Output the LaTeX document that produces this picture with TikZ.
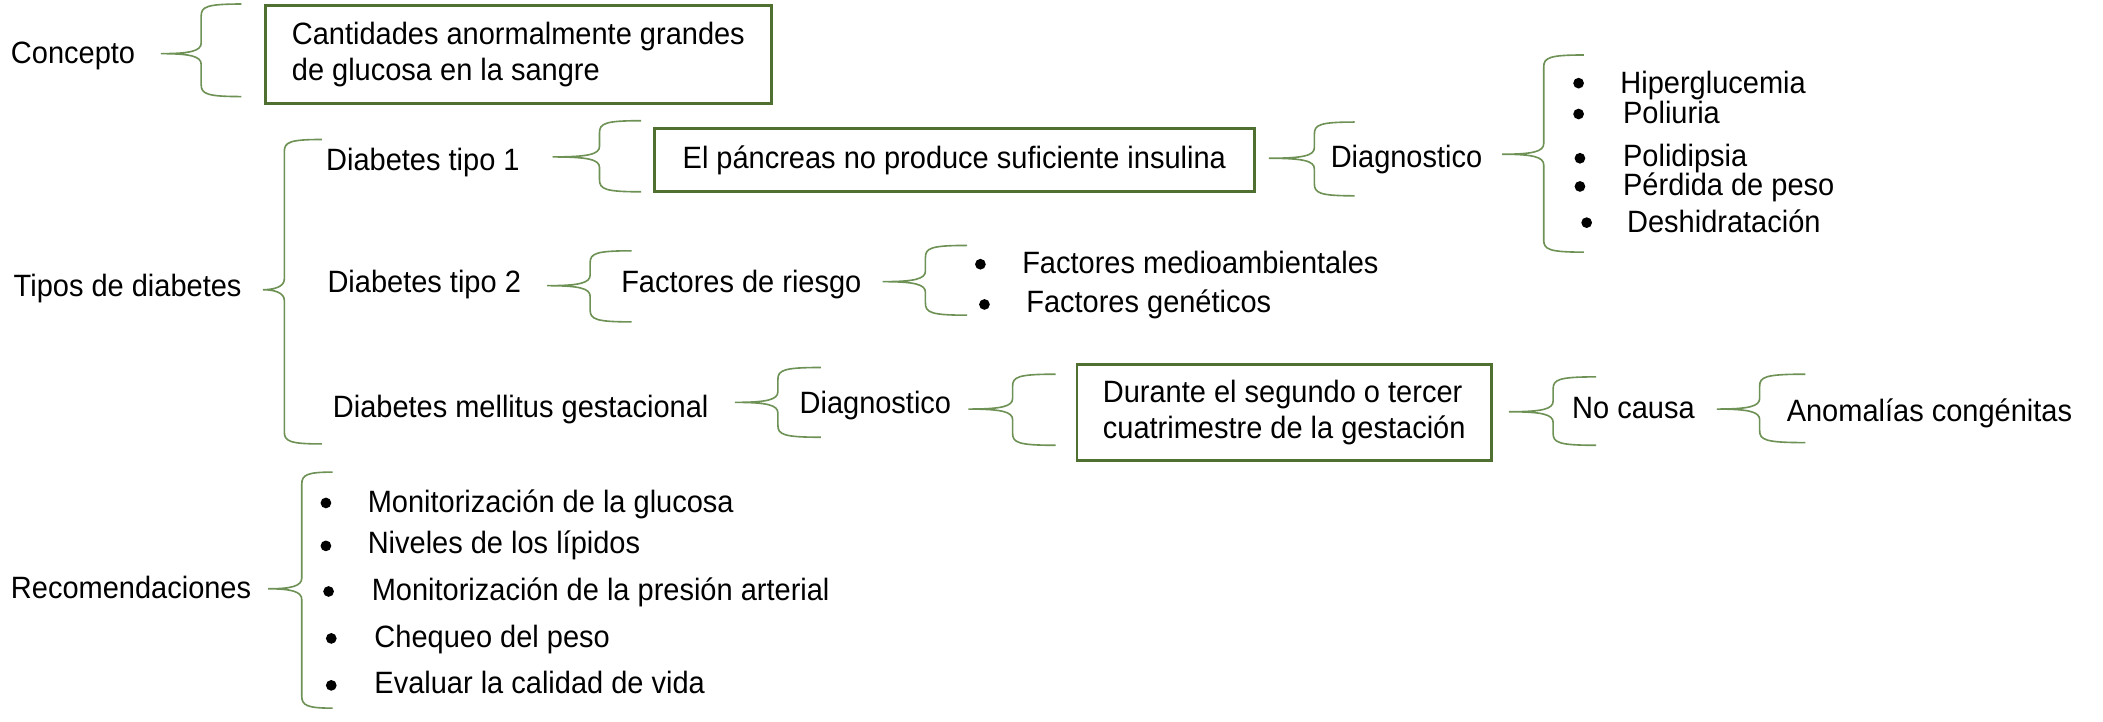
\documentclass[tikz,border=0pt]{standalone}
\usepackage{fontspec}
\setmainfont[FakeStretch=0.94]{Liberation Sans}
\definecolor{boxc}{RGB}{80,112,50}
\definecolor{bracec}{RGB}{110,145,85}
\newcommand\mybrace[6]{%
  \draw[brc] (#3,#4) .. controls ({#2+4},#4) and (#2,{#4+2}) .. (#2,{#4+9})
    -- (#2,{#5-8}) .. controls (#2,{#5-2}) and ({#2-8},#5) .. (#1,#5)
    .. controls ({#2-8},#5) and (#2,{#5+2}) .. (#2,{#5+8})
    -- (#2,{#6-9}) .. controls (#2,{#6-2}) and ({#2+4},#6) .. (#3,#6);}
\begin{document}
\begin{tikzpicture}[x=1pt,y=-1pt,
  every node/.style={font=\fontsize{23}{27}\selectfont, inner sep=0pt},
  lbl/.style={anchor=base west},
  box/.style={draw=boxc, line width=2.2pt, align=left},
  dot/.style={circle, fill=black, minimum size=8pt},
  brc/.style={draw=bracec, line width=1.2pt}]
\useasboundingbox[fill=white] (0,0) rectangle (1568,538);

% Concepto
\node[lbl] (concepto) at (8,47) {Concepto};
\mybrace{120}{150}{180}{3}{40}{72}
\node[box, minimum width=377pt, minimum height=73pt] (def) at (386.5,40.5)
  {Cantidades anormalmente grandes\\de glucosa en la sangre};

% Tipos
\node[lbl] (tipos) at (10,221) {Tipos de diabetes};
\mybrace{196}{212}{240}{104}{216}{331}

\node[lbl] (t1) at (243,127) {Diabetes tipo 1};
\mybrace{412}{447}{478}{90}{117}{143}
\node[box, minimum width=447pt, minimum height=47pt] (panc) at (711.5,119.5)
  {El páncreas no produce suficiente insulina};
\mybrace{946}{980}{1010}{91}{118}{146}
\node[lbl] (dx1) at (992,125) {Diagnostico};
\mybrace{1120}{1151}{1181}{41}{115}{188}
\node[dot] (s1) at (1177,62) {};
\node[dot] (s2) at (1177,85) {};
\node[dot] (s3) at (1178,118) {};
\node[dot] (s4) at (1178,139) {};
\node[dot] (s5) at (1183,166) {};
\node[lbl] (hip) at (1208,70) {Hiperglucemia};
\node[lbl] (pol) at (1210,92) {Poliuria};
\node[lbl] (pold) at (1210,124) {Polidipsia};
\node[lbl] (per) at (1210,146) {Pérdida de peso};
\node[lbl] (des) at (1213,173) {Deshidratación};

\node[lbl] (t2) at (244,218) {Diabetes tipo 2};
\mybrace{408}{440}{471}{187}{213}{240}
\node[lbl] (fr) at (463,218) {Factores de riesgo};
\mybrace{658}{690}{721}{183}{210}{235}
\node[dot] (f1) at (731,197) {};
\node[dot] (f2) at (734,227) {};
\node[lbl] (fm) at (762,204) {Factores medioambientales};
\node[lbl] (fg) at (765,233) {Factores genéticos};

\node[lbl] (dmg) at (248,311) {Diabetes mellitus gestacional};
\mybrace{548}{580}{612}{274}{300}{326}
\node[lbl] (dx2) at (596,308) {Diagnostico};
\mybrace{722}{755}{787}{279}{305}{332}
\node[box, minimum width=309pt, minimum height=71pt] (dur) at (957.5,307.5)
  {Durante el segundo o tercer\\cuatrimestre de la gestación};
\mybrace{1125}{1158}{1190}{281}{307}{332}
\node[lbl] (nc) at (1172,312) {No causa};
\mybrace{1280}{1312}{1346}{279}{305}{330}
\node[lbl] (ac) at (1332,314) {Anomalías congénitas};

% Recomendaciones
\node[lbl] (rec) at (8,446) {Recomendaciones};
\mybrace{200}{225}{248}{352}{439}{528}
\node[dot] (r1) at (243,375) {};
\node[dot] (r2) at (243,407) {};
\node[dot] (r3) at (245,441) {};
\node[dot] (r4) at (247,476) {};
\node[dot] (r5) at (247,511) {};
\node[lbl] (rm1) at (274,382) {Monitorización de la glucosa};
\node[lbl] (rm2) at (274,413) {Niveles de los lípidos};
\node[lbl] (rm3) at (277,448) {Monitorización de la presión arterial};
\node[lbl] (rm4) at (279,483) {Chequeo del peso};
\node[lbl] (rm5) at (279,517) {Evaluar la calidad de vida};
\end{tikzpicture}
\end{document}
